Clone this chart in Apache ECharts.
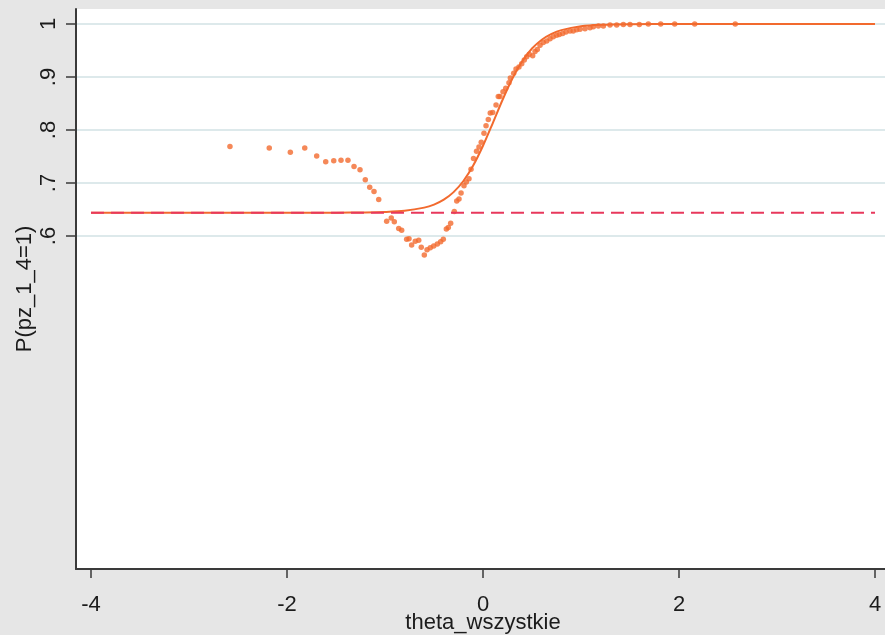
<!DOCTYPE html>
<html>
<head>
<meta charset="utf-8">
<script src="https://cdn.jsdelivr.net/npm/echarts@6/dist/echarts.min.js"></script>
<style>
  html, body { margin: 0; padding: 0; background: #e6e6e6; overflow: hidden; }
  #chart { width: 900px; height: 635px; }
</style>
</head>
<body>
<div id="chart"></div>
<script>
// Observed proportions of pz_1_4 = 1 by ability level
const observedTheta = [
  -2.582, -2.181, -1.966, -1.819, -1.697, -1.605, -1.523, -1.449, -1.378, -1.316,
  -1.255, -1.201, -1.156, -1.112, -1.064, -0.983, -0.936, -0.905, -0.860, -0.830,
  -0.779, -0.755, -0.728, -0.691, -0.656, -0.630, -0.599, -0.571, -0.538, -0.503,
  -0.466, -0.432, -0.405, -0.374, -0.354, -0.330, -0.293, -0.268, -0.245, -0.224,
  -0.194, -0.170, -0.143, -0.122, -0.097, -0.066, -0.041, -0.018, 0.010, 0.031,
  0.054, 0.074, 0.099, 0.133, 0.156, 0.173, 0.204, 0.232, 0.265, 0.279,
  0.313, 0.337, 0.367, 0.395, 0.421, 0.446, 0.472, 0.507, 0.531, 0.554,
  0.582, 0.615, 0.650, 0.684, 0.717, 0.752, 0.779, 0.813, 0.847, 0.888,
  0.921, 0.956, 0.990, 1.041, 1.092, 1.126, 1.177, 1.228, 1.296, 1.364,
  1.432, 1.500, 1.595, 1.687, 1.813, 1.956, 2.160, 2.574
];
const observedP = [
  0.769, 0.766, 0.758, 0.766, 0.751, 0.740, 0.742, 0.743, 0.743, 0.731,
  0.725, 0.706, 0.692, 0.684, 0.669, 0.628, 0.634, 0.627, 0.614, 0.611,
  0.594, 0.595, 0.583, 0.590, 0.592, 0.579, 0.564, 0.574, 0.578, 0.581,
  0.585, 0.589, 0.594, 0.613, 0.616, 0.624, 0.646, 0.666, 0.670, 0.681,
  0.695, 0.702, 0.708, 0.726, 0.746, 0.760, 0.768, 0.777, 0.794, 0.808,
  0.820, 0.832, 0.833, 0.847, 0.863, 0.863, 0.872, 0.879, 0.889, 0.898,
  0.907, 0.915, 0.919, 0.925, 0.932, 0.938, 0.943, 0.940, 0.948, 0.952,
  0.960, 0.965, 0.968, 0.972, 0.976, 0.979, 0.980, 0.982, 0.985, 0.987,
  0.987, 0.989, 0.990, 0.991, 0.993, 0.995, 0.996, 0.996, 0.998, 0.998,
  0.999, 0.999, 0.999, 1.000, 1.000, 1.000, 1.000, 1.000
];

// Fitted item characteristic curve
const curveTheta = [
  -4, -3, -2, -1.5, -1.2, -1.0, -0.8, -0.6, -0.5, -0.4, -0.3, -0.2, -0.1,
  0, 0.1, 0.2, 0.3, 0.4, 0.5, 0.6, 0.7, 0.8, 1.0, 1.2, 1.5, 2, 3, 4
];
const curveP = [
  0.644, 0.644, 0.644, 0.6441, 0.6445, 0.6453, 0.6475, 0.6535, 0.6593, 0.6686, 0.6828, 0.7038, 0.7329,
  0.7702, 0.8131, 0.8571, 0.8971, 0.9296, 0.9537, 0.9704, 0.9814, 0.9885, 0.9957, 0.9984, 0.9996, 1.0, 1.0, 1.0
];

// Lower asymptote reference line
const baselineTheta = [-4, 4];
const baselineP = [0.644, 0.644];

// Axis ticks
const xTicks = [-4, -2, 0, 2, 4];
const xTickLabels = ['-4', '-2', '0', '2', '4'];
const yTicks = [0.6, 0.7, 0.8, 0.9, 1];
const yTickLabels = ['.6', '.7', '.8', '.9', '1'];

const zip = (xs, ys) => xs.map((x, i) => [x, ys[i]]);
const FONT = 'Liberation Sans, Arial, sans-serif';
const INK = '#1c1c1c';
const AXIS = '#3a3a3a';

const chart = echarts.init(document.getElementById('chart'), null, { renderer: 'canvas' });
chart.setOption({
  backgroundColor: '#e6e6e6',
  animation: false,
  grid: {
    left: 76, top: 9, width: 814, height: 560,
    outerBoundsMode: 'none',
    containLabel: false,
    show: true, backgroundColor: '#ffffff', borderWidth: 0
  },
  xAxis: {
    type: 'value',
    min: -4.153, max: 4.153,
    name: 'theta_wszystkie',
    nameLocation: 'middle',
    nameGap: 43,
    nameMoveOverlap: false,
    nameTextStyle: { fontFamily: FONT, fontSize: 22, color: INK },
    axisLine: { show: true, onZero: false, lineStyle: { color: AXIS, width: 2 } },
    axisTick: { show: true, length: 9, customValues: xTicks, lineStyle: { color: AXIS, width: 1.5 } },
    axisLabel: {
      customValues: xTicks,
      margin: 25,
      fontFamily: FONT, fontSize: 22, color: INK,
      formatter: v => xTickLabels[xTicks.indexOf(v)] ?? ''
    },
    splitLine: { show: false }
  },
  yAxis: {
    type: 'value',
    min: -0.0283, max: 1.0283,
    name: 'P(pz_1_4=1)',
    nameLocation: 'middle',
    nameGap: 40,
    nameMoveOverlap: false,
    nameRotate: 90,
    nameTextStyle: { fontFamily: FONT, fontSize: 22, color: INK },
    axisLine: { show: true, onZero: false, lineStyle: { color: AXIS, width: 2 } },
    axisTick: { show: true, length: 10, customValues: yTicks, lineStyle: { color: AXIS, width: 1.5 } },
    axisLabel: {
      customValues: yTicks,
      rotate: 90,
      margin: 16,
      fontFamily: FONT, fontSize: 22, color: INK,
      formatter: v => yTickLabels[yTicks.findIndex(t => Math.abs(t - v) < 1e-9)] ?? ''
    },
    splitLine: { show: true, lineStyle: { color: '#dde9eb', width: 2 } }
  },
  series: [
    {
      name: 'observed',
      type: 'scatter',
      data: zip(observedTheta, observedP),
      symbol: 'circle',
      symbolSize: 5.5,
      itemStyle: { color: '#f26a2e' },
      z: 3
    },
    {
      name: 'fitted',
      type: 'line',
      data: zip(curveTheta, curveP),
      smooth: 0.3,
      showSymbol: false,
      lineStyle: { color: '#f26a2e', width: 2 },
      z: 4
    },
    {
      name: 'baseline',
      type: 'line',
      data: zip(baselineTheta, baselineP),
      showSymbol: false,
      lineStyle: { color: '#e8385c', width: 2, type: [13, 7] },
      z: 5
    }
  ]
});
</script>
</body>
</html>
